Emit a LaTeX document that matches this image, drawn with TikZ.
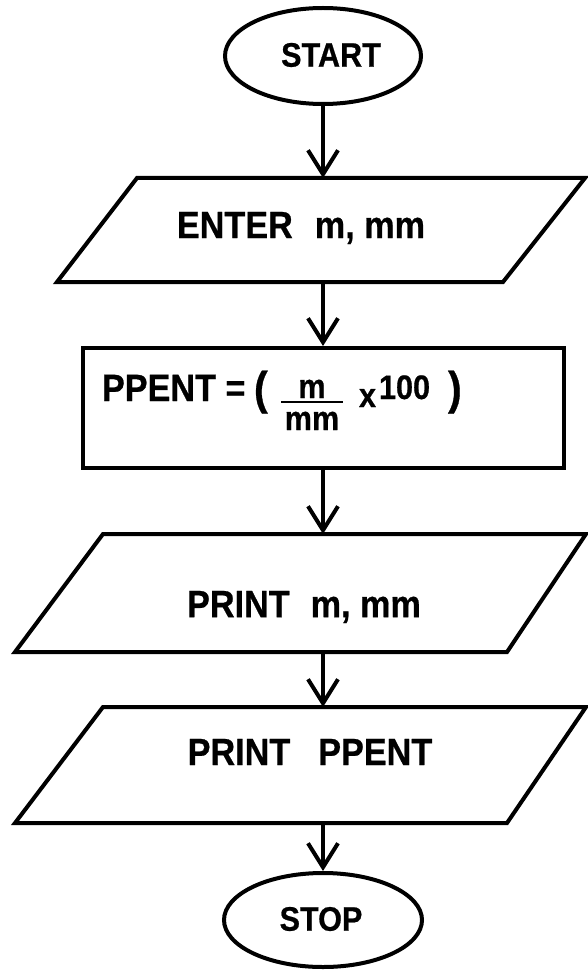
\documentclass[tikz,border=0pt]{standalone}
\usepackage{fontspec}
\setmainfont{Liberation Sans}[FakeStretch=0.9,BoldFeatures={FakeBold=0.6}]
\usetikzlibrary{arrows.meta,shapes.geometric}
\begin{document}
\begin{tikzpicture}[x=1pt,y=-1pt,line width=4pt,line join=miter,
  arr/.style={-{Straight Barb[length=24pt,width=30pt]}},
  term/.style={draw,ellipse,inner sep=0pt},
  big/.style={inner sep=0pt,font=\fontsize{38}{40}\selectfont\bfseries},
  mid/.style={inner sep=0pt,font=\fontsize{34}{36}\selectfont\bfseries},
  small/.style={inner sep=0pt,font=\fontsize{34}{36}\selectfont\bfseries},
  paren/.style={inner sep=0pt,font=\fontsize{46}{48}\selectfont\bfseries}]
\useasboundingbox (0,0) rectangle (587,973);

% START
\node[term,minimum width=196pt,minimum height=96pt] (start) at (323,56) {};
\node[small] (starttxt) at (331,55) {START};

% ENTER parallelogram
\draw (137,178) -- (585,178) -- (503,282) -- (57,282) -- cycle;
\coordinate (enterT) at (323,178);
\coordinate (enterB) at (323,282);
\node[big] (entertxt) at (301,228) {ENTER\hspace{22pt}m, mm};

% process box
\node[draw,rectangle,minimum width=481pt,minimum height=120pt,inner sep=0pt] (box) at (323,408) {};
\node[big,anchor=base west] (ppent) at (100,401) {PPENT =};
\node[paren,anchor=base west] (lpar) at (252,404) {(};
\node[mid,anchor=base] (num) at (312,398) {m};
\node[mid,anchor=base] (den) at (312,430) {mm};
\draw[line width=2.5pt] (281,402) -- (343,402);
\node[mid,anchor=base west] (times) at (357,407) {x};
\node[mid,anchor=base west] (hundred) at (377,399) {100};
\node[paren,anchor=base west] (rpar) at (446,404) {)};

% PRINT m, mm
\draw (103,534) -- (586,534) -- (507,652) -- (15,652) -- cycle;
\coordinate (p1T) at (323,534);
\coordinate (p1B) at (323,652);
\node[big] (p1txt) at (304,607) {PRINT\hspace{21pt}m, mm};

% PRINT PPENT
\draw (103,707) -- (586,707) -- (507,823) -- (15,823) -- cycle;
\coordinate (p2T) at (323,707);
\coordinate (p2B) at (323,823);
\node[big] (p2txt) at (310,752) {PRINT\hspace{28pt}PPENT};

% STOP
\node[term,minimum width=198pt,minimum height=94pt] (stop) at (323,920) {};
\node[small] (stoptxt) at (321,919) {STOP};

% connectors
\draw[arr] (start.south) -- (enterT);
\draw[arr] (enterB) -- (box.north);
\draw[arr] (box.south) -- (p1T);
\draw[arr] (p1B) -- (p2T);
\draw[arr] (p2B) -- (stop.north);
\end{tikzpicture}
\end{document}
